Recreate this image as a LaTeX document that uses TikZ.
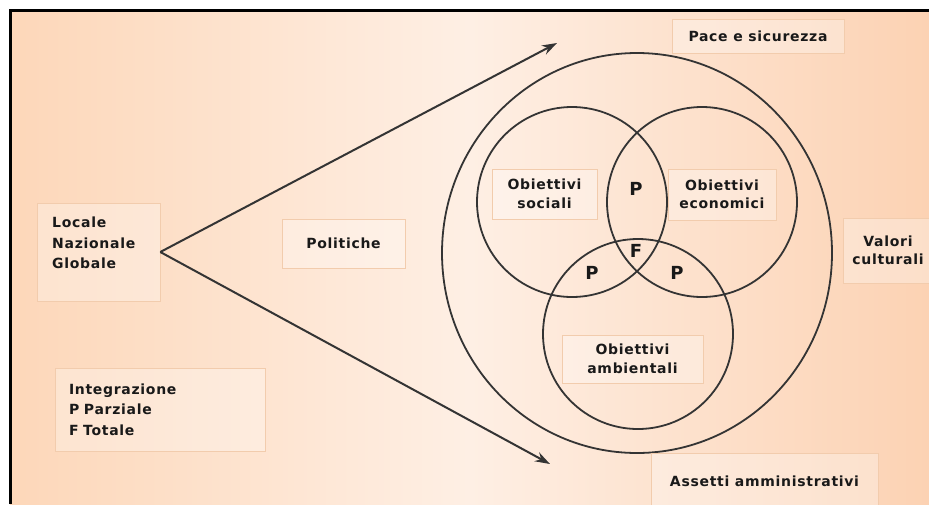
\documentclass[tikz,border=0pt]{standalone}
\usepackage{fontspec}
\newfontfamily\lblfont[LetterSpace=5]{DejaVu Sans}
\usetikzlibrary{arrows.meta}

\definecolor{peachleft}{HTML}{FDD7B9}
\definecolor{peachmid}{HTML}{FEEFE4}
\definecolor{peachright}{HTML}{FCD2B3}
\definecolor{boxline}{HTML}{F2CCAD}
\definecolor{ink}{HTML}{343434}

\tikzset{
  lbl/.style={font=\lblfont\bfseries\fontsize{14}{18.5}\selectfont, text=black!90, align=center},
  listlbl/.style={lbl, font=\lblfont\bfseries\fontsize{14}{20.5}\selectfont, align=left},
  box/.style={fill=white, fill opacity=0.3, text opacity=1, draw=boxline, line width=0.6pt, inner sep=0pt},
  pf/.style={font=\lblfont\bfseries\fontsize{18}{18}\selectfont, text=black!90, inner sep=0pt},
  ring/.style={draw=ink, line width=1.8pt},
  flow/.style={draw=ink, line width=2pt, -{Stealth[length=15pt,width=10pt]}}
}

\begin{document}
\begin{tikzpicture}[x=1pt,y=-1pt]
\useasboundingbox (0,0) rectangle (929,504);
\clip (0,0) rectangle (929,504);

% background and frame
\fill[white] (0,0) rectangle (929,504);
\shade[left color=peachleft, right color=peachright, middle color=peachmid] (10,10) rectangle (929,504);
\draw[line width=3pt] (10,504) -- (10,10) -- (929,10);

% levels and legend
\path (98.5,252) node[box, minimum width=123pt, minimum height=98pt] (loc) {};
\path (loc.north west) ++(12,11) node[listlbl, anchor=north west] (loctext) {Locale\\Nazionale\\Globale};
\path (160,409.5) node[box, listlbl, minimum width=210pt, minimum height=83pt, text width=182pt] (integr) {Integrazione\\P Parziale\\F Totale};

% policies
\coordinate (tipup) at (557,43);
\coordinate (tipdown) at (550,464);
\draw[flow] (loc.east) -- (tipup);
\draw[flow] (loc.east) -- (tipdown);
\path (343.5,243.5) node[box, lbl, minimum width=123pt, minimum height=49pt] (pol) {Politiche};

% venn
\draw[ring] (637,253) ellipse [x radius=195pt, y radius=200pt];
\foreach \cx/\cy in {572/202, 702/202, 638/334}
{
	\draw[ring] (\cx,\cy) circle [radius=95pt];
}

\path (544.5,194) node[box, lbl, minimum width=105pt, minimum height=50pt] (soc) {Obiettivi\\sociali};
\path (722,194.5) node[box, lbl, minimum width=108pt, minimum height=51pt] (eco) {Obiettivi\\economici};
\path (632.5,359) node[box, lbl, minimum width=141pt, minimum height=48pt] (amb) {Obiettivi\\ambientali};

\path (636,189) node[pf] (pse) {P};
\path (636,251) node[pf] (ftot) {F};
\path (592,273) node[pf] (psa) {P};
\path (677,273) node[pf] (pea) {P};

% context
\path (758,36) node[box, lbl, minimum width=172pt, minimum height=34pt] (pace) {Pace e sicurezza};
\path (888,250.5) node[box, lbl, minimum width=90pt, minimum height=65pt] (val) {Valori\\culturali};
\path (764.5,481) node[box, lbl, minimum width=227pt, minimum height=56pt] (ass) {Assetti amministrativi};

\end{tikzpicture}
\end{document}
